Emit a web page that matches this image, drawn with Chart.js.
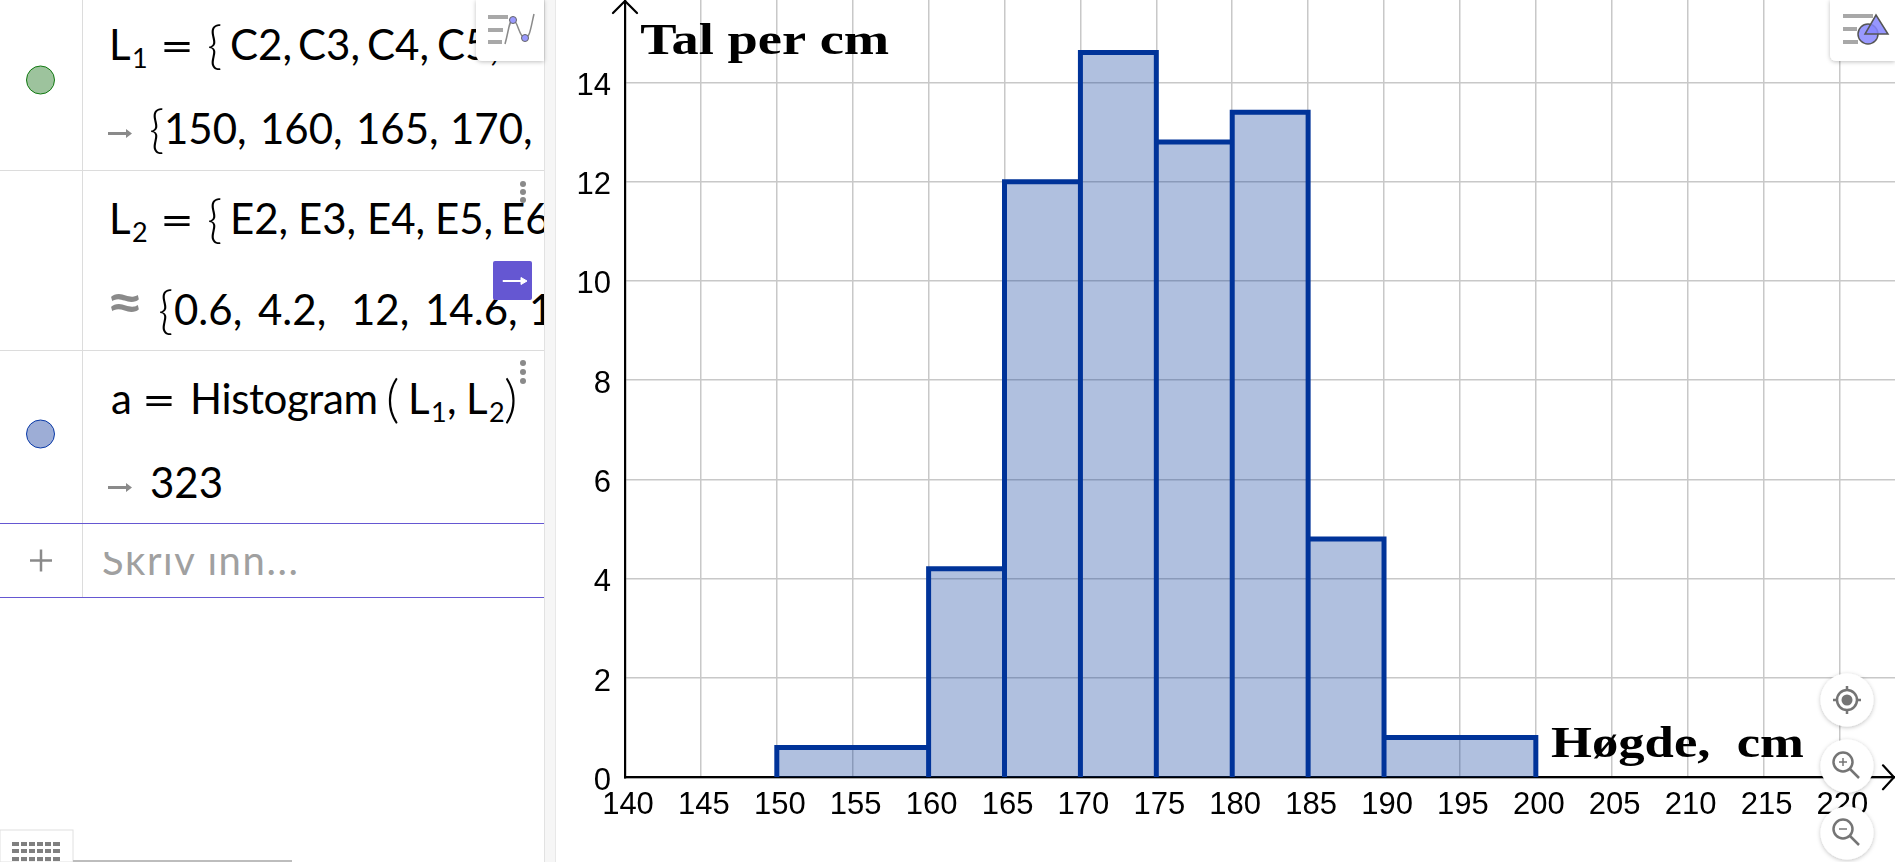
<!DOCTYPE html>
<html lang="nn">
<head>
<meta charset="utf-8">
<title>Histogram</title>
<script src="https://cdn.jsdelivr.net/npm/chart.js@4"></script>
<style>
html,body{margin:0;padding:0;width:1895px;height:862px;overflow:hidden;background:#fff}
#c{position:absolute;left:0;top:0;width:1895px;height:862px}
svg{position:absolute;left:0;top:0}
.m{font-family:Lato,"Noto Sans",sans-serif;fill:#000}
.g{fill:#8a8a8a}
</style>
</head>
<body>
<canvas id="c" width="1895" height="862"></canvas>
<svg width="1895" height="862" viewBox="0 0 1895 862" xmlns="http://www.w3.org/2000/svg">
<defs>
<clipPath id="pc"><rect x="0" y="0" width="544" height="862"/></clipPath>
<clipPath id="ic"><rect x="90" y="552" width="450" height="25"/></clipPath>
<filter id="sh" x="-30%" y="-30%" width="160%" height="160%"><feDropShadow dx="0" dy="1" stdDeviation="2" flood-color="#000" flood-opacity=".25"/></filter>
</defs>
<!-- algebra panel -->
<rect x="0" y="0" width="545" height="862" fill="#fff"/>
<rect x="545" y="0" width="10" height="862" fill="#f6f6f6"/>
<line x1="544.5" y1="0" x2="544.5" y2="862" stroke="#e2e2e2"/>
<line x1="555.5" y1="0" x2="555.5" y2="862" stroke="#e8e8e8"/>
<line x1="82.5" y1="0" x2="82.5" y2="597" stroke="#dcdcdc"/>
<line x1="0" y1="170.5" x2="544" y2="170.5" stroke="#dcdcdc"/>
<line x1="0" y1="350.5" x2="544" y2="350.5" stroke="#dcdcdc"/>
<line x1="0" y1="523.5" x2="544" y2="523.5" stroke="#6557d2"/>
<line x1="0" y1="597.5" x2="544" y2="597.5" stroke="#6557d2"/>
<circle cx="40.5" cy="80" r="14" fill="#9dc39d" stroke="#117a11" stroke-width="1"/>
<circle cx="40.5" cy="434" r="14" fill="#9dadd6" stroke="#0a3aa8" stroke-width="1"/>
<g clip-path="url(#pc)"><g font-size="42" transform="translate(-4,1)">
  <text class="m" x="113" y="59">L</text><text class="m" x="136" y="67" font-size="27">1</text>
  <text class="m" x="164" y="60" textLength="34" lengthAdjust="spacingAndGlyphs">=</text>
  <text class="m" x="211" y="62" font-size="52" font-weight="300">{</text>
  <text class="m" x="234" y="59">C2,</text><text class="m" x="302" y="59">C3,</text><text class="m" x="371" y="59">C4,</text><text class="m" x="441" y="59">C5,</text>

  <text class="m" x="153" y="146" font-size="52" font-weight="300">{</text>
  <text class="m" x="168" y="143">150,</text><text class="m" x="264" y="143">160,</text><text class="m" x="360" y="143">165,</text><text class="m" x="454" y="143">170,</text>

  <text class="m" x="113" y="233">L</text><text class="m" x="136" y="241" font-size="27">2</text>
  <text class="m" x="164" y="234" textLength="34" lengthAdjust="spacingAndGlyphs">=</text>
  <text class="m" x="211" y="236" font-size="52" font-weight="300">{</text>
  <text class="m" x="234" y="233">E2,</text><text class="m" x="302" y="233">E3,</text><text class="m" x="371" y="233">E4,</text><text class="m" x="439" y="233">E5,</text><text class="m" x="505" y="233">E6</text>

  <text class="m" x="162" y="327" font-size="52" font-weight="300">{</text>
  <text class="m" x="178" y="324">0.6,</text><text class="m" x="262" y="324">4.2,</text><text class="m" x="355" y="324">12,</text><text class="m" x="429" y="324">14.6,</text><text class="m" x="533" y="324">1</text>

  <text class="m" x="115" y="413">a</text>
  <text class="m" x="146" y="414" textLength="34" lengthAdjust="spacingAndGlyphs">=</text>
  <text class="m" x="194" y="413" textLength="188">Histogram</text>
  <text class="m" x="390" y="416" font-size="52" font-weight="300">(</text>
  <text class="m" x="412" y="413">L</text><text class="m" x="435" y="421" font-size="27">1</text><text class="m" x="451" y="413">,</text>
  <text class="m" x="470" y="413">L</text><text class="m" x="493" y="421" font-size="27">2</text>
  <text class="m" x="508" y="416" font-size="52" font-weight="300">)</text>

  <text class="m" x="154" y="497">323</text>
</g></g>
<g fill="#8a8a8a">
  <path d="M108 132h18v-3l6 4.500-6 4.500v-3h-18z"/>
  <path d="M108 486h18v-3l6 4.500-6 4.500v-3h-18z"/>
</g>
<text class="m g" x="106" y="322" font-size="56" font-weight="700" textLength="38" lengthAdjust="spacingAndGlyphs">≈</text>
<line x1="30" y1="560.500" x2="52" y2="560.500" stroke="#8a8a8a" stroke-width="2.500"/>
<line x1="41" y1="549.500" x2="41" y2="571.500" stroke="#8a8a8a" stroke-width="2.500"/>
<g clip-path="url(#ic)"><text class="m" style="fill:#a0a0a0" x="102" y="575" font-size="40" textLength="196">Skriv inn...</text></g>
<!-- keyboard button and scrollbar -->
<rect x="0" y="830" width="73" height="32" fill="#fff" stroke="#e0e0e0"/>
<g fill="#808080">
  <rect x="12" y="842" width="48" height="4"/><rect x="12" y="849" width="48" height="4"/><rect x="12" y="857" width="48" height="4"/>
</g>
<g stroke="#fff" stroke-width="2"><line x1="20" y1="841" x2="20" y2="862"/><line x1="28" y1="841" x2="28" y2="862"/><line x1="36" y1="841" x2="36" y2="862"/><line x1="44" y1="841" x2="44" y2="862"/><line x1="52" y1="841" x2="52" y2="862"/></g>
<rect x="73" y="860" width="219" height="2" fill="#bdbdbd"/>
<!-- style bar buttons -->
<path d="M476 0h68v61h-62a6 6 0 0 1-6-6z" fill="#fff" filter="url(#sh)"/>
<g fill="#a8a8a8"><rect x="488" y="15" width="20" height="4"/><rect x="488" y="28" width="15" height="4"/><rect x="488" y="40" width="14" height="4"/></g>
<path d="M505 44C509 30 509 20 513 20C518 20 519 38 525 38C530 38 531 26 534 14" fill="none" stroke="#8a8a8a" stroke-width="1.500"/>
<circle cx="513" cy="20" r="3.500" fill="#9a9aff" stroke="#666"/><circle cx="525" cy="38" r="3.500" fill="#9a9aff" stroke="#666"/>
<rect x="493" y="261" width="39" height="39" rx="2" fill="#6557d2"/>
<path d="M503 280.500h18v-3l6 3.500-6 3.500v-3h-18z" fill="#fff" stroke="#fff"/>
<g fill="#8a8a8a"><circle cx="523" cy="184" r="3"/><circle cx="523" cy="192" r="3"/><circle cx="523" cy="200" r="3"/>
<circle cx="523" cy="363" r="3"/><circle cx="523" cy="372" r="3"/><circle cx="523" cy="381" r="3"/></g>
<path d="M1895 0v61h-59a6 6 0 0 1-6-6V0z" fill="#fff" filter="url(#sh)"/>
<g fill="#a8a8a8"><rect x="1843" y="14" width="30" height="4"/><rect x="1843" y="27" width="14" height="4"/><rect x="1843" y="40" width="15" height="4"/></g>
<circle cx="1868" cy="34" r="10" fill="#9a9aff" stroke="#555" stroke-width="1.500"/>
<path d="M1876 15L1888 34H1865Z" fill="#8585ff" fill-opacity=".85" stroke="#555" stroke-width="1.500"/>
<!-- round zoom buttons -->
<g fill="#fff" filter="url(#sh)"><circle cx="1847" cy="700" r="26.500"/><circle cx="1847" cy="766" r="26.500"/><circle cx="1847" cy="833" r="26.500"/></g>
<g fill="none" stroke="#757575" stroke-width="2.500">
  <circle cx="1847" cy="700" r="10"/><path d="M1847 686v5M1847 709v5M1833 700h5M1856 700h5"/>
  <circle cx="1843" cy="762" r="9.500"/><path d="M1850 769l9 9"/><path d="M1839 762h8M1843 758v8" stroke-width="1.500"/>
  <circle cx="1843" cy="829" r="9.500"/><path d="M1850 836l9 9"/><path d="M1839 829h8" stroke-width="1.500"/>
</g>
<circle cx="1847" cy="700" r="5.500" fill="#757575"/>
</svg>
<script>
// Histogram data
const binEdges = [150, 160, 165, 170, 175, 180, 185, 190, 200];
const densities = [0.6, 4.2, 12, 14.6, 12.8, 13.4, 4.8, 0.8];
const xTicks = [140, 145, 150, 155, 160, 165, 170, 175, 180, 185, 190, 195, 200, 205, 210, 215, 220];
const yTicks = [0, 2, 4, 6, 8, 10, 12, 14];
const yAxisLabel = 'Tal per cm';
const xAxisLabel = 'Høgde,  cm';

// One continuous outline: each bin rises from the baseline and returns to it.
const outline = [];
densities.forEach((h, i) => {
  const l = binEdges[i], r = binEdges[i + 1];
  outline.push({x: l, y: 0}, {x: l, y: h}, {x: r, y: h}, {x: r, y: 0});
});

function stretched(ctx, text, px, py, sx) {
  ctx.save();
  ctx.translate(px, py);
  ctx.scale(sx, 1);
  ctx.fillText(text, 0, 0);
  ctx.restore();
}

const axisArrows = {
  id: 'axisArrows',
  afterDatasetsDraw(chart) {
    const {ctx, chartArea: a, scales: {x, y}} = chart;
    ctx.save();
    ctx.strokeStyle = '#000';
    ctx.lineWidth = 2.2;
    ctx.lineCap = 'round';
    ctx.beginPath();
    ctx.moveTo(a.left - 12, a.top + 13); ctx.lineTo(a.left, a.top + 1); ctx.lineTo(a.left + 12, a.top + 13);
    ctx.moveTo(a.right - 12, a.bottom - 12); ctx.lineTo(a.right - 1, a.bottom); ctx.lineTo(a.right - 12, a.bottom + 12);
    ctx.stroke();
    ctx.fillStyle = '#000';
    ctx.font = 'bold 45px "Liberation Serif"';
    ctx.textBaseline = 'alphabetic';
    stretched(ctx, yAxisLabel, x.getPixelForValue(141), y.getPixelForValue(14.58), 1.21);
    stretched(ctx, xAxisLabel, x.getPixelForValue(201), y.getPixelForValue(0.41), 1.17);
    ctx.restore();
  }
};

function noPadding(s) { s.paddingTop = 0; s.paddingBottom = 0; s.paddingLeft = 0; s.paddingRight = 0; }

new Chart(document.getElementById('c'), {
  type: 'scatter',
  data: {datasets: [{
    label: 'a',
    data: outline,
    showLine: true,
    tension: 0,
    fill: 'origin',
    backgroundColor: 'rgba(0,51,153,0.31)',
    borderColor: '#003399',
    borderWidth: 5,
    borderJoinStyle: 'miter',
    pointRadius: 0,
    pointHoverRadius: 0
  }]},
  plugins: [axisArrows],
  options: {
    responsive: false,
    animation: false,
    events: [],
    layout: {padding: 0},
    plugins: {legend: {display: false}, tooltip: {enabled: false}, title: {display: false}},
    scales: {
      x: {
        type: 'linear', min: 140, max: 223.66,
        afterBuildTicks(s) { s.ticks = xTicks.map(v => ({value: v})); },
        afterFit(s) { s.height = 84.7; noPadding(s); },
        grid: {color: '#c8c8c8', lineWidth: 1.5, drawTicks: false},
        border: {color: '#000', width: 2.2},
        ticks: {color: '#000', font: {family: '"Liberation Sans"', size: 31}, padding: 10,
                labelOffset: 3, maxRotation: 0, autoSkip: false, callback: v => String(v)}
      },
      y: {
        type: 'linear', min: 0, max: 15.66,
        afterBuildTicks(s) { s.ticks = yTicks.map(v => ({value: v})); },
        afterFit(s) { s.width = 625; noPadding(s); },
        grid: {color: '#c8c8c8', lineWidth: 1.5, drawTicks: false},
        border: {color: '#000', width: 2.2},
        ticks: {color: '#000', font: {family: '"Liberation Sans"', size: 31}, padding: 14,
                labelOffset: 4, autoSkip: false, callback: v => String(v)}
      }
    }
  }
});
</script>
</body>
</html>
